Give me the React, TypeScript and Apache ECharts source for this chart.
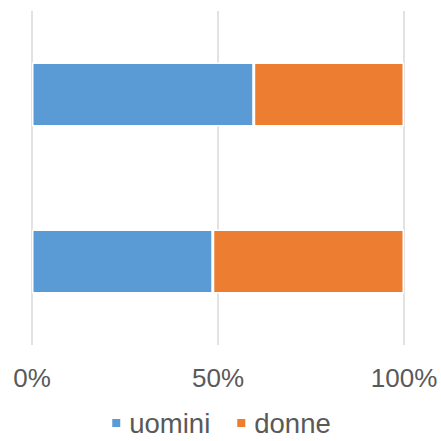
import React, { useEffect, useRef } from "react";
import * as echarts from "echarts";

const categories = ["B", "A"];
const uomini = [48.6, 59.6];
const donne = [51.4, 40.4];
const xTicks = [0, 50, 100];

export default function App() {
  const ref = useRef<HTMLDivElement>(null);
  useEffect(() => {
    if (!ref.current) return;
    const chart = echarts.init(ref.current, undefined, { renderer: "svg" });
    const font = "'Liberation Sans', Arial, sans-serif";
    chart.setOption({
      animation: false,
      grid: { left: 32, right: 37, top: 11, bottom: 96, containLabel: false },
      xAxis: {
        type: "value",
        min: xTicks[0],
        max: xTicks[xTicks.length - 1],
        interval: 50,
        axisLine: { show: false },
        axisTick: { show: false },
        splitLine: { show: true, lineStyle: { color: "#d9d9d9", width: 1.5 } },
        axisLabel: {
          formatter: "{value}%",
          color: "#595959",
          fontSize: 26,
          fontFamily: font,
          margin: 20,
        },
      },
      yAxis: {
        type: "category",
        data: categories,
        axisLine: { show: false },
        axisTick: { show: false },
        axisLabel: { show: false },
        splitLine: { show: false },
      },
      legend: {
        top: 409,
        left: "center",
        itemWidth: 10,
        itemHeight: 10,
        itemGap: 25,
        icon: "rect",
        padding: 0,
        textStyle: { color: "#595959", fontSize: 27.5, fontFamily: font, padding: [0, 0, 0, 3] },
        data: ["uomini", "donne"],
      },
      series: [
        {
          name: "uomini",
          type: "bar",
          stack: "total",
          data: uomini,
          barWidth: 64,
          itemStyle: { color: "#5B9BD5", borderColor: "#ffffff", borderWidth: 1.5 },
        },
        {
          name: "donne",
          type: "bar",
          stack: "total",
          data: donne,
          barWidth: 64,
          itemStyle: { color: "#ED7D31", borderColor: "#ffffff", borderWidth: 1.5 },
        },
      ],
    });
    return () => chart.dispose();
  }, []);
  return (
    <div
      ref={ref}
      style={{ position: "fixed", left: 0, top: 0, width: 441, height: 441, background: "#fff" }}
    />
  );
}
